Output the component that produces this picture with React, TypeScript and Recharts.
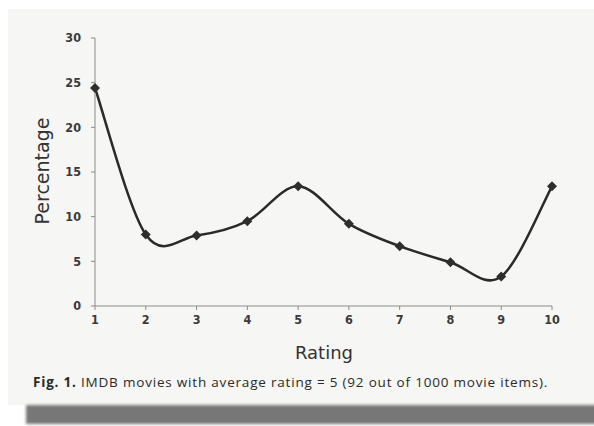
import { LineChart, Line, XAxis, YAxis } from 'recharts';

// Fig. 1 — IMDB movies with average rating = 5, share of votes per rating value
const ratings = [1, 2, 3, 4, 5, 6, 7, 8, 9, 10];
const percentages = [24.4, 8.0, 7.9, 9.5, 13.4, 9.2, 6.7, 4.9, 3.3, 13.4];
const yTicks = [0, 5, 10, 15, 20, 25, 30];

const data = ratings.map((r, i) => ({ rating: r, pct: percentages[i] }));

// Excel-style smoothed line (Catmull-Rom via cubic beziers), passed to Recharts as a curve factory
function smoothCurve(context: any) {
  let pts: [number, number][] = [];
  return {
    areaStart() {},
    areaEnd() {},
    lineStart() {
      pts = [];
    },
    point(x: number, y: number) {
      pts.push([+x, +y]);
    },
    lineEnd() {
      if (!pts.length) return;
      context.moveTo(pts[0][0], pts[0][1]);
      for (let i = 0; i < pts.length - 1; i++) {
        const p0 = pts[i - 1] || pts[i];
        const p1 = pts[i];
        const p2 = pts[i + 1];
        const p3 = pts[i + 2] || p2;
        context.bezierCurveTo(
          p1[0] + (p2[0] - p0[0]) / 6,
          p1[1] + (p2[1] - p0[1]) / 6,
          p2[0] - (p3[0] - p1[0]) / 6,
          p2[1] - (p3[1] - p1[1]) / 6,
          p2[0],
          p2[1],
        );
      }
    },
  };
}

const Diamond = (props: any) => {
  const { cx, cy, index } = props;
  const s = 5;
  return (
    <path
      key={`d-${index}`}
      d={`M${cx},${cy - s}L${cx + s},${cy}L${cx},${cy + s}L${cx - s},${cy}Z`}
      fill="#2e2e2e"
    />
  );
};

const tickFont = {
  fontSize: 12.5,
  fontWeight: 700,
  fill: '#3a3a3a',
  fontFamily: '"DejaVu Sans Condensed", "DejaVu Sans", sans-serif',
};

export default function App() {
  return (
    <div style={{ position: 'absolute', left: 0, top: 0, width: 594, height: 426, background: '#fff', overflow: 'hidden' }}>
      <div style={{ position: 'absolute', left: 8, top: 9, width: 586, height: 396, background: '#f6f6f4' }} />
      <div
        style={{
          position: 'absolute',
          left: 26,
          top: 405,
          width: 580,
          height: 19,
          background: '#777',
          filter: 'blur(1.5px)',
        }}
      />
      <div style={{ position: 'absolute', left: 0, top: 0 }}>
        <LineChart width={594} height={345} data={data} margin={{ top: 38, right: 42, left: 0, bottom: 9 }}>
          <XAxis
            dataKey="rating"
            type="number"
            domain={[1, 10]}
            ticks={ratings}
            interval={0}
            height={30}
            tick={tickFont}
            tickSize={4}
            tickMargin={5}
            axisLine={{ stroke: '#8a8a8a' }}
            tickLine={{ stroke: '#8a8a8a' }}
          />
          <YAxis
            type="number"
            domain={[0, 30]}
            ticks={yTicks}
            width={95}
            tick={tickFont}
            tickSize={4}
            tickMargin={10}
            axisLine={{ stroke: '#8a8a8a' }}
            tickLine={{ stroke: '#8a8a8a' }}
          />
          <Line
            dataKey="pct"
            type={smoothCurve as any}
            stroke="#2a2a2a"
            strokeWidth={2.5}
            dot={Diamond}
            activeDot={false}
            isAnimationActive={false}
          />
        </LineChart>
      </div>
      <div
        style={{
          position: 'absolute',
          left: 42,
          top: 171,
          transform: 'translate(-50%, -50%) rotate(-90deg)',
          fontFamily: '"DejaVu Sans", sans-serif',
          fontSize: 19,
          color: '#333',
          whiteSpace: 'nowrap',
        }}
      >
        Percentage
      </div>
      <div
        style={{
          position: 'absolute',
          left: 324,
          top: 352,
          transform: 'translate(-50%, -50%)',
          fontFamily: '"DejaVu Sans", sans-serif',
          fontSize: 18,
          color: '#333',
          whiteSpace: 'nowrap',
        }}
      >
        Rating
      </div>
      <div
        style={{
          position: 'absolute',
          left: 33,
          top: 373,
          fontFamily: '"Open Sans", sans-serif',
          fontSize: 13.5,
          letterSpacing: 0.8,
          color: '#2a2a2a',
          whiteSpace: 'nowrap',
        }}
      >
        <b>Fig. 1.</b> IMDB movies with average rating = 5 (92 out of 1000 movie items).
      </div>
    </div>
  );
}
